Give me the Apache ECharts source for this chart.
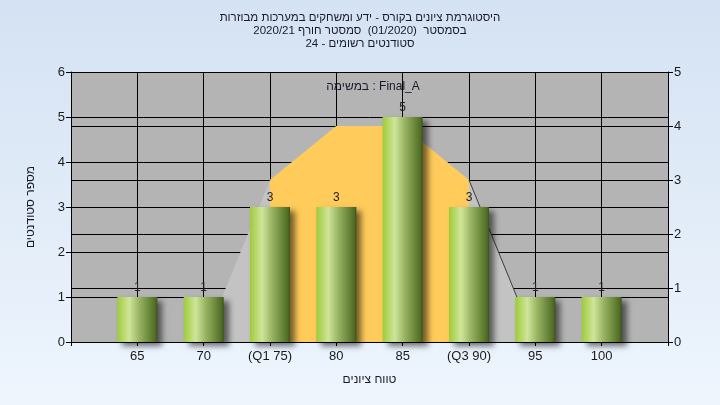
<!DOCTYPE html>
<html>
<head>
<meta charset="utf-8">
<script src="https://cdn.jsdelivr.net/npm/echarts@6/dist/echarts.min.js"></script>
<style>
html,body{margin:0;padding:0;}
#chart{width:720px;height:405px;}
</style>
</head>
<body>
<div id="chart"></div>
<script>
// ---- data ----
const grades = [65, 70, 75, 80, 85, 90, 95, 100];
const gradeLabels = ['65', '70', '(Q1 75)', '80', '85', '(Q3 90)', '95', '100'];
const counts = [1, 1, 3, 3, 5, 3, 1, 1];
const curveValues = [0, 0, 3, 4, 4, 3, 0, 0];
const q1Index = 2;
const q3Index = 5;
const titleLines = [
  'היסטוגרמת ציונים בקורס - ידע ומשחקים במערכות מבוזרות',
  'בסמסטר  (01/2020)  סמסטר חורף 2020/21',
  'סטודנטים רשומים - 24'
];
const seriesCaption = 'Final_A : במשימה';
const yAxisName = 'מספר סטודנטים';
const xAxisName = 'טווח ציונים';

// ---- helpers ----
const rtl = s => '\u202B' + s + '\u202C';
const pairs = (from, to) => grades.slice(from, to + 1).map((g, i) => [g, curveValues[from + i]]);

const FONT = "'Liberation Sans', 'DejaVu Sans', sans-serif";
const chart = echarts.init(document.getElementById('chart'), null, {renderer: 'canvas'});

const option = {
  animation: false,
  backgroundColor: {
    type: 'linear', x: 0, y: 0, x2: 0, y2: 1,
    colorStops: [{offset: 0, color: '#d4e2f3'}, {offset: 1, color: '#eef5fd'}]
  },
  title: [{
    text: titleLines.map(rtl).join('\n'),
    left: 'center',
    top: 6,
    textStyle: {fontFamily: FONT, fontSize: 11.5, fontWeight: 'normal', color: '#1a1a2a', lineHeight: 13, align: 'center'}
  }, {
    text: rtl(seriesCaption),
    left: 368,
    top: 76,
    textAlign: 'center',
    textStyle: {fontFamily: FONT, fontSize: 12, fontWeight: 'normal', color: '#1a1a2a'}
  }],
  grid: {
    left: 71, right: 52, top: 72, bottom: 63,
    show: true, backgroundColor: '#b4b4b4', borderWidth: 0
  },
  xAxis: {
    type: 'value', min: 60, max: 105, interval: 5,
    name: rtl(xAxisName), nameLocation: 'middle', nameGap: 32,
    nameTextStyle: {fontFamily: FONT, fontSize: 12, color: '#1a1a2a'},
    axisLine: {show: true, onZero: false, lineStyle: {color: '#000', width: 1}},
    axisTick: {show: true, inside: false, length: 4, lineStyle: {color: '#000'}},
    axisLabel: {
      fontFamily: FONT, fontSize: 13, color: '#1a1a1a', margin: 8,
      formatter: v => { const i = grades.indexOf(v); return i >= 0 ? gradeLabels[i] : ''; }
    },
    splitLine: {show: true, lineStyle: {color: '#000', width: 1}}
  },
  yAxis: [{
    type: 'value', min: 0, max: 6, interval: 1, position: 'left',
    name: rtl(yAxisName), nameLocation: 'middle', nameGap: 34,
    nameTextStyle: {fontFamily: FONT, fontSize: 12, color: '#1a1a2a'},
    axisLine: {show: true, lineStyle: {color: '#000', width: 1}},
    axisTick: {show: true, inside: false, length: 5, lineStyle: {color: '#000'}},
    axisLabel: {fontFamily: FONT, fontSize: 13, color: '#1a1a1a', margin: 6},
    splitLine: {show: true, lineStyle: {color: '#000', width: 1}}
  }, {
    type: 'value', min: 0, max: 5, interval: 1, position: 'right',
    axisLine: {show: true, lineStyle: {color: '#000', width: 1}},
    axisTick: {show: true, inside: false, length: 5, lineStyle: {color: '#000'}},
    axisLabel: {fontFamily: FONT, fontSize: 13, color: '#1a1a1a', margin: 6},
    splitLine: {show: true, lineStyle: {color: '#000', width: 1}}
  }],
  series: [{
    name: 'curve-area',
    type: 'line', yAxisIndex: 1, symbol: 'none', silent: true,
    data: pairs(1, 6),
    lineStyle: {width: 0},
    areaStyle: {color: '#c3c3c3', opacity: 1},
    z: 2
  }, {
    name: 'iqr-area',
    type: 'line', yAxisIndex: 1, symbol: 'none', silent: true,
    data: pairs(q1Index, q3Index),
    lineStyle: {width: 0},
    areaStyle: {color: '#ffcb5a', opacity: 1},
    z: 3
  }, {
    name: 'curve-line',
    type: 'line', yAxisIndex: 1, symbol: 'none', silent: true,
    data: pairs(q3Index, q3Index + 1),
    lineStyle: {width: 1, color: '#3c3c3c'},
    z: 4
  }, {
    name: 'Final_A',
    type: 'bar', yAxisIndex: 0, barWidth: 40,
    data: grades.map((g, i) => [g, counts[i]]),
    itemStyle: {
      color: {
        type: 'linear', x: 0, y: 0, x2: 1, y2: 0,
        colorStops: [
          {offset: 0, color: '#9fcb3a'},
          {offset: 0.3, color: '#cfe59a'},
          {offset: 0.55, color: '#98b462'},
          {offset: 0.95, color: '#4f6c24'},
          {offset: 1, color: '#3b5218'}
        ]
      },
      shadowColor: 'rgba(0,0,0,0.55)',
      shadowBlur: 6,
      shadowOffsetX: 5,
      shadowOffsetY: 4
    },
    label: {show: true, position: 'top', distance: 3, fontFamily: FONT, fontSize: 12, color: '#222'},
    z: 5
  }]
};
chart.setOption(option);
</script>
</body>
</html>
